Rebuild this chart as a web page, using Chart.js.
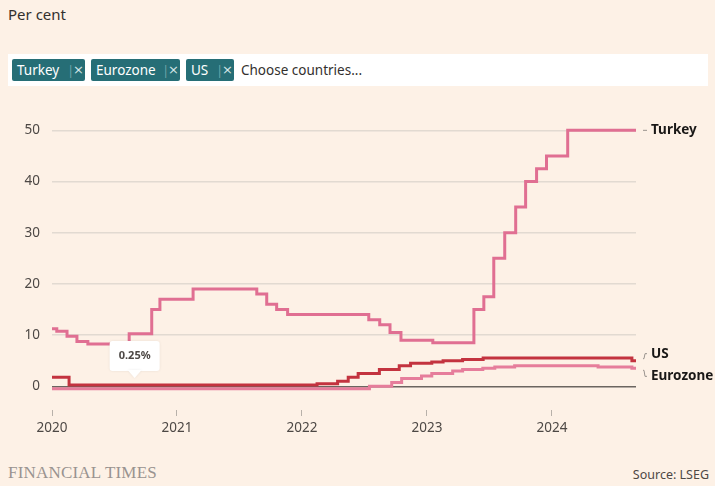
<!DOCTYPE html>
<html>
<head>
<meta charset="utf-8">
<script src="https://cdn.jsdelivr.net/npm/chart.js@4"></script>
<style>
  body { margin: 0; background: #fdf1e6; font-family: "Noto Sans", sans-serif; }
  #wrap { position: relative; width: 715px; height: 486px; overflow: hidden; }
  .title { position: absolute; left: 8px; top: 4px; font-size: 15px; color: #33302e; }
  .bar { position: absolute; left: 8px; top: 54px; width: 700px; height: 32px; background: #fff; }
  .chip { position: absolute; top: 5px; height: 22px; background: #266e76; color: #fff; border-radius: 2px;
          font-size: 13.5px; line-height: 22px; padding-left: 5px; box-sizing: border-box; white-space: nowrap; }
  .chip .sep { position: absolute; top: 0; color: #8fb6ba; font-weight: 300; }
  .chip .x { position: absolute; top: 0; font-size: 13px; color: #d5e6e8; font-family: "DejaVu Sans", sans-serif; }
  .choose { position: absolute; left: 233px; top: 5px; font-size: 13.5px; line-height: 22px; color: #33302e; }
  #box { position: absolute; left: 0; top: 100px; width: 715px; height: 345px; }
  .ft { position: absolute; left: 8px; top: 463px; font-family: "Liberation Serif", serif; font-size: 17px;
        color: #999390; letter-spacing: 0.2px; }
  .src { position: absolute; right: 6px; top: 466px; font-size: 12.5px; color: #4d4845; }
</style>
</head>
<body>
<div id="wrap">
  <div class="title">Per cent</div>
  <div class="bar">
    <div class="chip" style="left:4px;width:73px">Turkey<span class="sep" style="left:55px">|</span><span class="x" style="left:61px">×</span></div>
    <div class="chip" style="left:83px;width:89px">Eurozone<span class="sep" style="left:71px">|</span><span class="x" style="left:77px">×</span></div>
    <div class="chip" style="left:178px;width:48px">US<span class="sep" style="left:30px">|</span><span class="x" style="left:36px">×</span></div>
    <div class="choose">Choose countries...</div>
  </div>
  <div id="box"><canvas id="chart"></canvas></div>
  <div class="ft">FINANCIAL TIMES</div>
  <div class="src">Source: LSEG</div>
</div>
<script>
// policy rates, per cent (step changes)
const turkeyDates = ['2020-01-01','2020-01-15','2020-02-14','2020-03-14','2020-04-15','2020-08-14','2020-10-19','2020-11-12',
  '2021-02-17','2021-08-22','2021-09-20','2021-10-19','2021-11-20','2022-07-15','2022-08-16','2022-09-15','2022-10-17',
  '2023-01-18','2023-05-18','2023-06-16','2023-07-15','2023-08-16','2023-09-17','2023-10-16','2023-11-17','2023-12-16',
  '2024-02-16','2024-09-03'];
const turkeyValues = [11.25,10.75,9.75,8.75,8.25,10.25,15,17,19,18,16,15,14,13,12,10.5,9,8.5,15,17.5,25,30,35,40,42.5,45,50,50];

const usDates = ['2020-01-01','2020-02-20','2022-02-14','2022-04-15','2022-05-16','2022-06-14','2022-08-15','2022-10-12',
  '2022-11-14','2023-01-15','2023-02-17','2023-04-15','2023-06-14','2024-08-22','2024-09-03'];
const usValues = [1.75,0.25,0.5,1,1.75,2.5,3.25,4,4.5,4.75,5,5.25,5.5,5,5];

const ezDates = ['2020-01-01','2022-07-17','2022-09-20','2022-10-19','2022-12-16','2023-01-15','2023-03-17','2023-04-15',
  '2023-06-13','2023-07-18','2023-09-14','2024-05-15','2024-08-22','2024-09-03'];
const ezValues = [-0.5,0,0.75,1.5,2,2.5,3,3.25,3.5,3.75,4,3.75,3.5,3.5];

const yearTicks = [2020, 2021, 2022, 2023, 2024];
const yTicks = [0, 10, 20, 30, 40, 50];
const tipDate = '2020-08-30', tipValue = 0.25;

function decYear(s) {
  const d = new Date(s + 'T00:00:00Z');
  const y = d.getUTCFullYear();
  const start = Date.UTC(y, 0, 1), end = Date.UTC(y + 1, 0, 1);
  return y + (d - start) / (end - start);
}
const toPts = (dates, vals) => dates.map((d, i) => ({ x: decYear(d), y: vals[i] }));

const pink = '#e06f92', red = '#c3333f', ezPink = '#e67d9b';

const labels = {
  id: 'labels',
  afterDatasetsDraw(chart) {
    const { ctx, scales: { x, y } } = chart;
    ctx.save();
    // tooltip box
    const tx = x.getPixelForValue(decYear(tipDate)), ty = y.getPixelForValue(tipValue) - 6;
    ctx.fillStyle = '#fff';
    ctx.shadowColor = 'rgba(0,0,0,0.08)'; ctx.shadowBlur = 3;
    ctx.beginPath();
    ctx.roundRect(tx - 25, ty - 38, 50, 30, 3);
    ctx.fill();
    ctx.beginPath();
    ctx.moveTo(tx - 7, ty - 9); ctx.lineTo(tx, ty - 1); ctx.lineTo(tx + 7, ty - 9);
    ctx.fill();
    ctx.shadowBlur = 0;
    ctx.fillStyle = '#4d4845';
    ctx.font = 'bold 11px "Noto Sans"';
    ctx.textAlign = 'center'; ctx.textBaseline = 'middle';
    ctx.fillText('0.25%', tx, ty - 23);

    // end labels
    const right = chart.chartArea.right;
    const ends = [
      { name: 'Turkey', v: turkeyValues[turkeyValues.length - 1], off: 0 },
      { name: 'US', v: usValues[usValues.length - 1], off: -7 },
      { name: 'Eurozone', v: ezValues[ezValues.length - 1], off: 8 }
    ];
    ctx.strokeStyle = '#9a948f'; ctx.lineWidth = 1;
    ctx.font = 'bold 13.5px "Noto Sans"';
    ctx.textAlign = 'left';
    ends.forEach(e => {
      const py = y.getPixelForValue(e.v);
      const ly = py + e.off;
      ctx.beginPath();
      if (e.off === 0) {
        ctx.moveTo(right + 7, py); ctx.lineTo(right + 11, py);
      } else {
        ctx.moveTo(right + 7, py + (e.off < 0 ? -2 : 2));
        ctx.lineTo(right + 8, py + (e.off < 0 ? -2 : 2));
        ctx.lineTo(right + 9, ly);
        ctx.lineTo(right + 11, ly);
      }
      ctx.stroke();
      ctx.fillStyle = '#1a1817';
      ctx.fillText(e.name, right + 15, ly);
    });
    ctx.restore();
  }
};

new Chart(document.getElementById('chart'), {
  type: 'line',
  data: {
    datasets: [
      { label: 'Eurozone', data: toPts(ezDates, ezValues), borderColor: ezPink, borderWidth: 3, stepped: true, pointRadius: 0 },
      { label: 'US', data: toPts(usDates, usValues), borderColor: red, borderWidth: 3, stepped: true, pointRadius: 0 },
      { label: 'Turkey', data: toPts(turkeyDates, turkeyValues), borderColor: pink, borderWidth: 3, stepped: true, pointRadius: 0 }
    ]
  },
  options: {
    responsive: true,
    maintainAspectRatio: false,
    animation: false,
    layout: { padding: { top: 20, right: 79, left: 0, bottom: 0 } },
    plugins: { legend: { display: false }, tooltip: { enabled: false } },
    scales: {
      x: {
        type: 'linear',
        min: decYear('2020-01-01'),
        max: decYear('2024-09-03'),
        afterBuildTicks: s => { s.ticks = yearTicks.map(v => ({ value: v })); },
        afterFit: s => { s.height = 35; },
        border: { display: false },
        grid: { drawOnChartArea: false, drawTicks: true, tickLength: 6, color: '#b8b1aa', offset: false },
        ticks: { callback: v => String(v), color: '#4d4845', font: { family: 'Noto Sans', size: 13.5 }, padding: 4, maxRotation: 0 }
      },
      y: {
        min: -4.64,
        max: 52,
        afterBuildTicks: s => { s.ticks = yTicks.map(v => ({ value: v })); },
        afterFit: s => { s.width = 52; },
        border: { display: false },
        grid: {
          drawTicks: false,
          color: c => c.tick && c.tick.value === 0 ? '#6b6560' : '#e2dad1',
          lineWidth: 1.5
        },
        ticks: { color: '#4d4845', font: { family: 'Noto Sans', size: 13.5 }, padding: 12 }
      }
    }
  },
  plugins: [labels]
});
</script>
</body>
</html>
